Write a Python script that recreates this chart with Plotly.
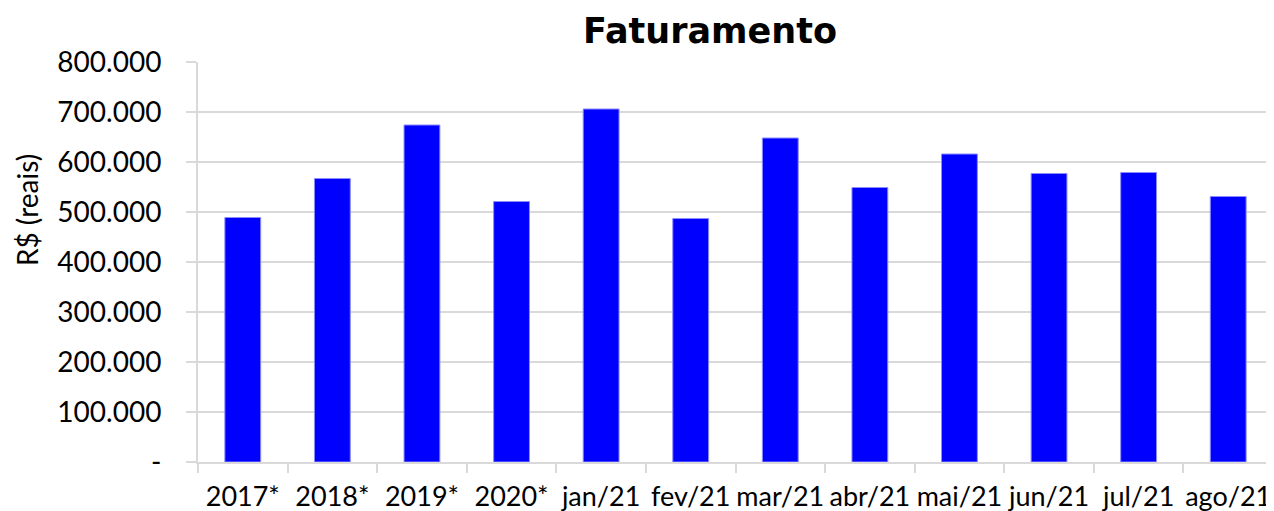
import plotly.graph_objects as go

categories = ["2017*", "2018*", "2019*", "2020*", "jan/21", "fev/21", "mar/21",
              "abr/21", "mai/21", "jun/21", "jul/21", "ago/21"]
faturamento = [489000, 567000, 674000, 521000, 706000, 487000, 648000,
               549000, 616000, 577000, 579000, 531000]
y_tick_values = [0, 100000, 200000, 300000, 400000, 500000, 600000, 700000, 800000]
y_tick_labels = ["-", "100.000", "200.000", "300.000", "400.000", "500.000",
                 "600.000", "700.000", "800.000"]

FONT = "Lato"
GRID = "#d9d9d9"

fig = go.Figure(go.Bar(
    x=categories, y=faturamento,
    marker=dict(color="#0000ff", line=dict(color="#8c8cff", width=1)),
))

fig.update_layout(
    width=1266, height=503,
    margin=dict(l=190, r=1, t=54, b=49),
    paper_bgcolor="white", plot_bgcolor="white",
    bargap=0.6,
    showlegend=False,
    font=dict(family=FONT, color="#000000"),
    title=dict(text="<b>Faturamento</b>", x=0.5545, xanchor="center", xref="container",
               y=0.954, yanchor="middle", yref="container",
               font=dict(family="DejaVu Sans", size=35, color="#000000")),
    annotations=[dict(text="R$ (reais)", textangle=-90, xref="paper", yref="paper",
                      x=-0.159, y=0.63, xanchor="center", yanchor="middle",
                      showarrow=False,
                      font=dict(family=FONT, size=28, color="#000000"))],
)

fig.update_xaxes(
    type="category",
    showline=True, linecolor=GRID, linewidth=2,
    ticks="outside", tickson="boundaries", ticklen=9, tickcolor=GRID, tickwidth=2,
    showgrid=False,
    tickangle=0, automargin=False,
    tickfont=dict(family=FONT, size=27, color="#000000"),
    ticklabelstandoff=10,
)

fig.update_yaxes(
    range=[0, 800000],
    tickvals=y_tick_values, ticktext=y_tick_labels,
    showgrid=True, gridcolor=GRID, gridwidth=2,
    showline=True, linecolor=GRID, linewidth=2,
    ticks="outside", ticklen=10, tickcolor=GRID, tickwidth=2,
    zeroline=False, automargin=False,
    tickfont=dict(family=FONT, size=28, color="#000000"),
    ticklabelstandoff=19,
)

fig.write_html("out.html")
